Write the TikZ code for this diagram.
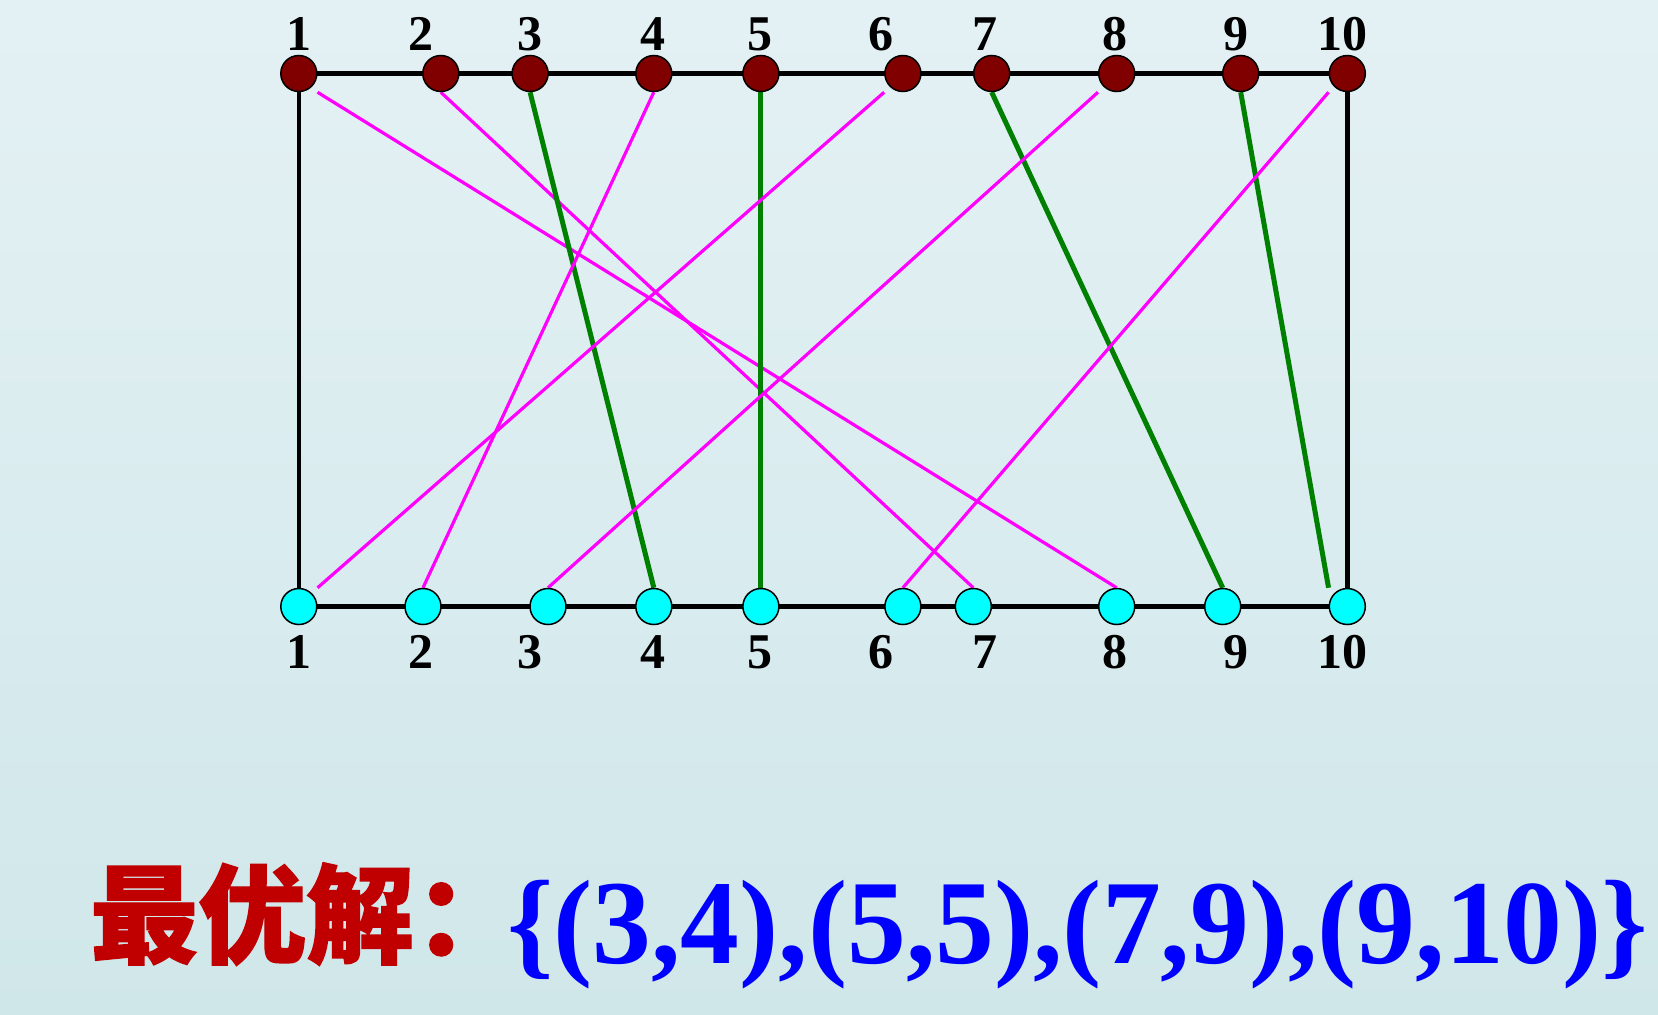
\documentclass[tikz,border=0pt]{standalone}
\usepackage{fontspec}
\setmainfont{Liberation Serif}
\newfontfamily\cjk[BoldFeatures={FakeBold=1.2}]{Noto Sans CJK SC}
\usetikzlibrary{calc}
\definecolor{topred}{HTML}{800000}
\definecolor{botcyan}{HTML}{00FFFF}
\definecolor{linkmag}{HTML}{FF00FF}
\definecolor{linkgreen}{HTML}{008000}
\definecolor{titlered}{HTML}{C00000}
\definecolor{formblue}{HTML}{0000FF}
\definecolor{bgtop}{HTML}{E4F1F4}
\definecolor{bgbot}{HTML}{D0E7EA}
\pgfdeclarelayer{bg}
\pgfsetlayers{bg,main}
\begin{document}
\begin{tikzpicture}[x=1pt,y=-1pt,
  topnode/.style={circle,draw=black,line width=1.5pt,fill=topred,minimum size=36pt,inner sep=0pt},
  botnode/.style={circle,draw=black,line width=1.5pt,fill=botcyan,minimum size=36pt,inner sep=0pt},
  lbl/.style={anchor=base,inner sep=0pt,font=\fontsize{50}{56}\selectfont\bfseries},
  rail/.style={draw=black,line width=5pt},
  side/.style={draw=black,line width=4.5pt},
  maglink/.style={draw=linkmag,line width=3.2pt},
  grnlink/.style={draw=linkgreen,line width=5pt}]
\useasboundingbox (0,0) rectangle (1658,1015);
% top nodes
\foreach \n/\x in {1/298.8,2/440.8,3/530.1,4/653.8,5/760.9,6/902.9,7/991.7,8/1116.7,9/1240.7,10/1347.3}
  \node[topnode] (t\n) at (\x,73.5) {};
% bottom nodes
\foreach \n/\x in {1/298.8,2/423,3/548,4/653.8,5/760.9,6/902.9,7/973.3,8/1116.7,9/1222.7,10/1347.3}
  \node[botnode] (b\n) at (\x,606.5) {};
% labels
\foreach \n/\x in {1/298.8,2/420.7,3/530,4/653,5/760,6/880.5,7/985,8/1115,9/1236,10/1342}{
  \node[lbl] (lt\n) at (\x,50) {\n};
  \node[lbl] (lb\n) at (\x,668) {\n};
}
% formula
\node[anchor=base west,inner sep=0pt,text=titlered,font=\cjk\bfseries\fontsize{108}{120}\selectfont] (title) at (90,955) {最优解：};
\node[anchor=base west,inner sep=0pt,text=formblue,font=\fontsize{120}{130}\selectfont\bfseries] (formula) at (507,963) {\scalebox{0.98}[1]{\{(3,4),(5,5),(7,9),(9,10)\}}};
\begin{pgfonlayer}{bg}
  \shade[top color=bgtop,bottom color=bgbot] (0,0) rectangle (1658,1015);
  \draw[rail] (t1.center) -- (t10.center);
  \draw[rail] (b1.center) -- (b10.center);
  \draw[side] (t1.south) -- (b1.north);
  \draw[side] (t10.south) -- (b10.north);
  \draw[maglink] (t1.south -| t1.east) -- (b8.north);
  \draw[maglink] (t2.south) -- (b7.north);
  \draw[grnlink] (t3.south) -- (b4.north);
  \draw[maglink] (t4.south) -- (b2.north);
  \draw[grnlink] (t5.south) -- (b5.north);
  \draw[maglink] (t6.south -| t6.west) -- (b1.north -| b1.east);
  \draw[grnlink] (t7.south) -- (b9.north);
  \draw[maglink] (t8.south -| t8.west) -- (b3.north);
  \draw[grnlink] (t9.south) -- (b10.north -| b10.west);
  \draw[maglink] (t10.south -| t10.west) -- (b6.north);
\end{pgfonlayer}
\end{tikzpicture}
\end{document}
